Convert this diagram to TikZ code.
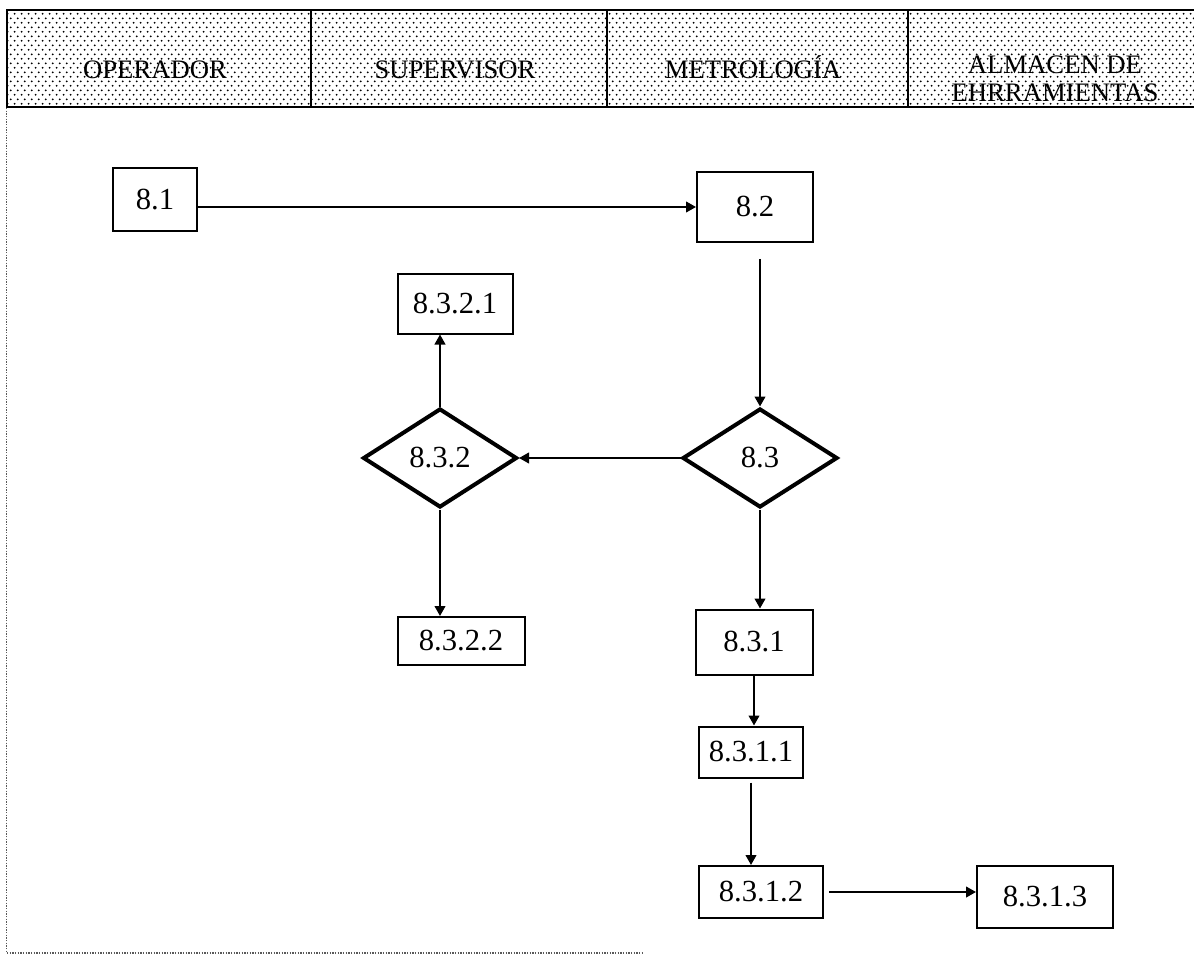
\documentclass[tikz,border=0pt]{standalone}
\usepackage{fontspec}
\setmainfont{Liberation Serif}
\usetikzlibrary{shapes.geometric,arrows.meta,patterns.meta}

% staggered dot screen for the header band
\pgfdeclarepattern{
  name=staggerdots, type=uncolored,
  bottom left={\pgfpoint{0pt}{0pt}}, top right={\pgfpoint{5pt}{7pt}},
  tile size={\pgfpoint{5pt}{7pt}},
  code={\pgfpathcircle{\pgfpoint{1.25pt}{1.75pt}}{0.8pt}%
        \pgfpathcircle{\pgfpoint{3.75pt}{5.25pt}}{0.8pt}%
        \pgfusepath{fill}}
}

\tikzset{
  sz/.style 2 args={minimum width=#1*0.75pt, minimum height=#2*0.75pt},
  box/.style={draw, line width=1.5pt, inner sep=0pt,
              font=\fontsize{23}{26}\selectfont},
  dec/.style={diamond, draw, line width=3pt, inner sep=0pt,
              font=\fontsize{23}{26}\selectfont},
  hdr/.style={inner sep=0pt, align=center, anchor=base,
              font=\fontsize{20}{21}\selectfont},
  arr/.style={-{Triangle[length=7.5pt,width=8pt]}, line width=1.5pt},
  hline/.style={line width=1.1pt},
  frame/.style={line width=0.8pt, gray!70!black, dash pattern=on 1pt off 1pt}
}

\begin{document}
\begin{tikzpicture}[x=0.75pt, y=-0.75pt]
\useasboundingbox (0,0) rectangle (1194,955);

% header band with the four departments
\path[pattern=staggerdots, pattern color=black] (7,10) rectangle (1194,107);
\draw[hline] (1194,10) -- (7,10) -- (7,107) -- (1194,107);
\draw[hline] (311,10) -- (311,107);
\draw[hline] (607,10) -- (607,107);
\draw[hline] (908,10) -- (908,107);

\node[hdr] (hOp)  at (155,79)  {OPERADOR};
\node[hdr] (hSup) at (455,79)  {SUPERVISOR};
\node[hdr] (hMet) at (753,79)  {METROLOGÍA};
\node[hdr] (hAlm) at (1055,102) {ALMACEN DE\\EHRRAMIENTAS};

% dotted outline of the lane area
\draw[frame] (6.5,108) -- (6.5,953) -- (643,953);

% process steps
\node[box, sz={84}{63}]  (n81)   at (155,200)   {8.1};
\node[box, sz={116}{70}] (n82)   at (755,207)   {8.2};
\node[box, sz={115}{59}] (n8321) at (455,304)   {8.3.2.1};
\node[dec, sz={154}{99}] (n832)  at (440,458)   {8.3.2};
\node[dec, sz={155}{99}] (n83)   at (760,458)   {8.3};
\node[box, sz={127}{48}] (n8322) at (461,641)   {8.3.2.2};
\node[box, sz={117}{65}] (n831)  at (754,642)   {8.3.1};
\node[box, sz={104}{51}] (n8311) at (751,752)   {8.3.1.1};
\node[box, sz={124}{52}] (n8312) at (761,892)   {8.3.1.2};
\node[box, sz={136}{62}] (n8313) at (1045,897)  {8.3.1.3};

% flow
\draw[arr] (n81.east |- n82.west) -- (n82.west);
\draw[arr, shorten <=12pt] (n83.north |- n82.south) -- (n83.north);
\draw[arr] (n83.west) -- (n832.east);
\draw[arr] (n832.north) -- (n832.north |- n8321.south);
\draw[arr] (n832.south) -- (n832.south |- n8322.north);
\draw[arr] (n83.south) -- (n83.south |- n831.north);
\draw[arr] (n831.south) -- (n831.south |- n8311.north);
\draw[arr, shorten <=3pt] (n8311.south) -- (n8311.south |- n8312.north);
\draw[arr, shorten <=4pt] (n8312.east) -- (n8312.east -| n8313.west);
\end{tikzpicture}
\end{document}
